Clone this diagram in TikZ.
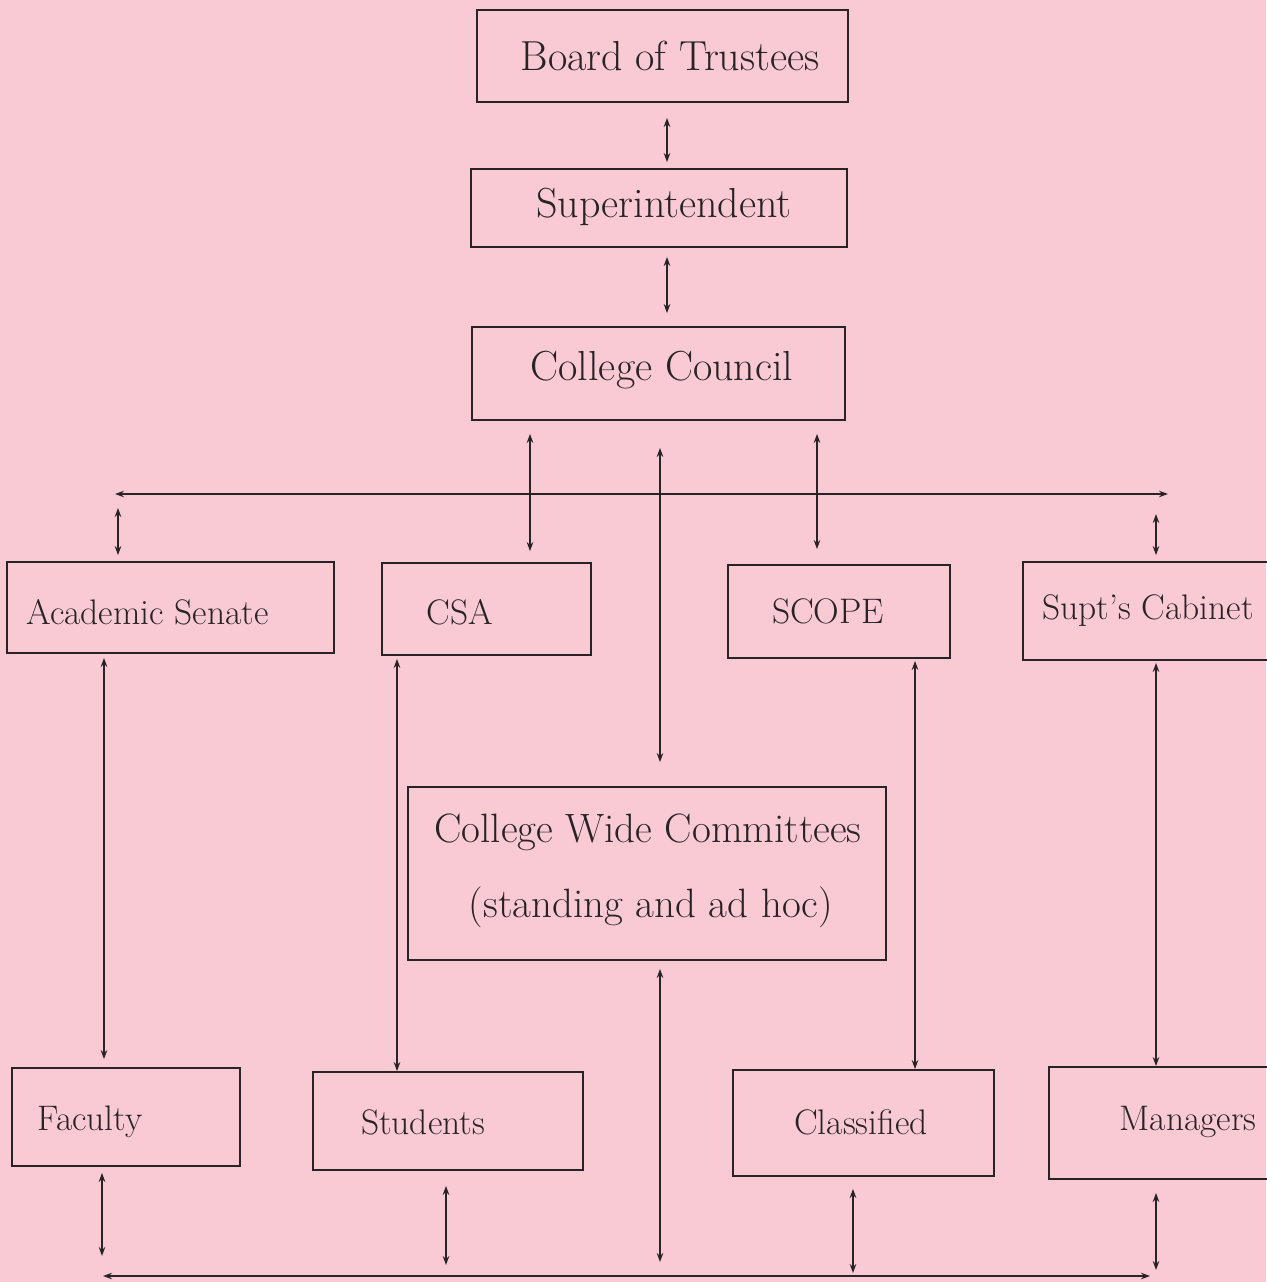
\documentclass[tikz,border=0pt]{standalone}
\usetikzlibrary{arrows.meta}
\definecolor{paper}{RGB}{250,202,212}
\definecolor{ink}{RGB}{40,36,38}
\begin{document}
\begin{tikzpicture}[x=1pt,y=-1pt,
  box/.style={draw=ink,line width=1.8pt,inner sep=0pt,fill=none},
  bigtxt/.style={text=ink,inner sep=0pt,font=\fontsize{42}{48}\selectfont},
  cwctxt/.style={text=ink,inner sep=0pt,font=\fontsize{41}{48}\selectfont},
  smalltxt/.style={text=ink,inner sep=0pt,font=\fontsize{35.5}{42}\selectfont},
  dar/.style={draw=ink,line width=1.8pt,{Stealth[length=9pt,width=6.5pt]}-{Stealth[length=9pt,width=6.5pt]}}]
\fill[paper] (0,0) rectangle (1266,1282);
\useasboundingbox (0,0) rectangle (1266,1282);

% boxes
\node[box,minimum width=371pt,minimum height=92pt] (bot) at (662.5,56) {};
\node[box,minimum width=376pt,minimum height=78pt] (sup) at (659,208) {};
\node[box,minimum width=373pt,minimum height=93pt] (cc) at (658.5,373.5) {};
\node[box,minimum width=327pt,minimum height=91pt] (as) at (170.5,607.5) {};
\node[box,minimum width=209pt,minimum height=92pt] (csa) at (486.5,609) {};
\node[box,minimum width=222pt,minimum height=93pt] (scope) at (839,611.5) {};
\node[box,minimum width=249pt,minimum height=98pt] (cab) at (1147.5,611) {};
\node[box,minimum width=478pt,minimum height=173pt] (cwc) at (647,873.5) {};
\node[box,minimum width=228pt,minimum height=98pt] (fac) at (126,1117) {};
\node[box,minimum width=270pt,minimum height=98pt] (stu) at (448,1121) {};
\node[box,minimum width=261pt,minimum height=106pt] (cla) at (863.5,1123) {};
\node[box,minimum width=225pt,minimum height=112pt] (man) at (1161.5,1123) {};

% texts
\node[bigtxt] (bott) at (670,56) {Board of Trustees};
\node[bigtxt] (supt) at (664,207) {Superintendent};
\node[bigtxt] (cct) at (662,370) {College Council};
\node[smalltxt] (ast) at (147.5,612) {Academic Senate};
\node[smalltxt] (csat) at (460,612) {CSA};
\node[smalltxt] (scopet) at (828,611) {SCOPE};
\node[smalltxt] (cabt) at (1148,611) {Supt's Cabinet};
\node[cwctxt] (cwct1) at (648,832) {College Wide Committees};
\node[cwctxt] (cwct2) at (651,907) {(standing and ad hoc)};
\node[smalltxt] (fact) at (90,1122) {Faculty};
\node[smalltxt] (stut) at (423,1122) {Students};
\node[smalltxt] (clat) at (861,1122) {Classified};
\node[smalltxt] (mant) at (1188,1122) {Managers};

% bus lines
\coordinate (hl) at (115,494);
\coordinate (hr) at (1168,494);
\coordinate (bl) at (103,1276);
\coordinate (br) at (1150,1276);
\draw[dar] (hl) -- (hr);
\draw[dar] (bl) -- (br);

% top chain
\draw[dar,shorten <=15pt,shorten >=6pt] ([xshift=4.5pt]bot.south) -- ([xshift=8pt]sup.north);
\draw[dar,shorten <=9pt,shorten >=13pt] ([xshift=8pt]sup.south) -- ([xshift=8.5pt]cc.north);

% from council
\draw[dar,shorten <=13pt,shorten >=11pt] ([xshift=-128.5pt]cc.south) -- ([xshift=43.5pt]csa.north);
\draw[dar,shorten <=27pt,shorten >=24pt] ([xshift=1.5pt]cc.south) -- ([xshift=13pt]cwc.north);
\draw[dar,shorten <=13pt,shorten >=15pt] ([xshift=158.5pt]cc.south) -- ([xshift=-22pt]scope.north);

% from top bus to outer boxes
\draw[dar,shorten <=14pt,shorten >=6pt] ([xshift=3pt]hl) -- ([xshift=-52.5pt]as.north);
\draw[dar,shorten <=20pt,shorten >=6pt] ([xshift=-12pt]hr) -- ([xshift=8.5pt]cab.north);

% long verticals
\draw[dar,shorten <=4pt,shorten >=8pt] ([xshift=-66.5pt]as.south) -- ([xshift=-22pt]fac.north);
\draw[dar,shorten <=3pt,shorten >=0pt] ([xshift=-89.5pt]csa.south) -- ([xshift=-51pt]stu.north);
\draw[dar,shorten <=2pt,shorten >=0pt] ([xshift=76pt]scope.south) -- ([xshift=51.5pt]cla.north);
\draw[dar,shorten <=2pt,shorten >=0pt] ([xshift=8.5pt]cab.south) -- ([xshift=-5.5pt]man.north);

% to bottom bus
\draw[dar,shorten <=6pt,shorten >=20pt] ([xshift=-24pt]fac.south) -- ([xshift=-24pt]fac.south |- bl);
\draw[dar,shorten <=15pt,shorten >=11pt] ([xshift=-2pt]stu.south) -- ([xshift=343pt]bl);
\draw[dar,shorten <=8pt,shorten >=14pt] ([xshift=13pt]cwc.south) -- ([xshift=557pt]bl);
\draw[dar,shorten <=12pt,shorten >=3pt] ([xshift=-10.5pt]cla.south) -- ([xshift=750pt]bl);
\draw[dar,shorten <=13pt,shorten >=6pt] ([xshift=-5.5pt]man.south) -- ([xshift=6pt]br);
\end{tikzpicture}
\end{document}
